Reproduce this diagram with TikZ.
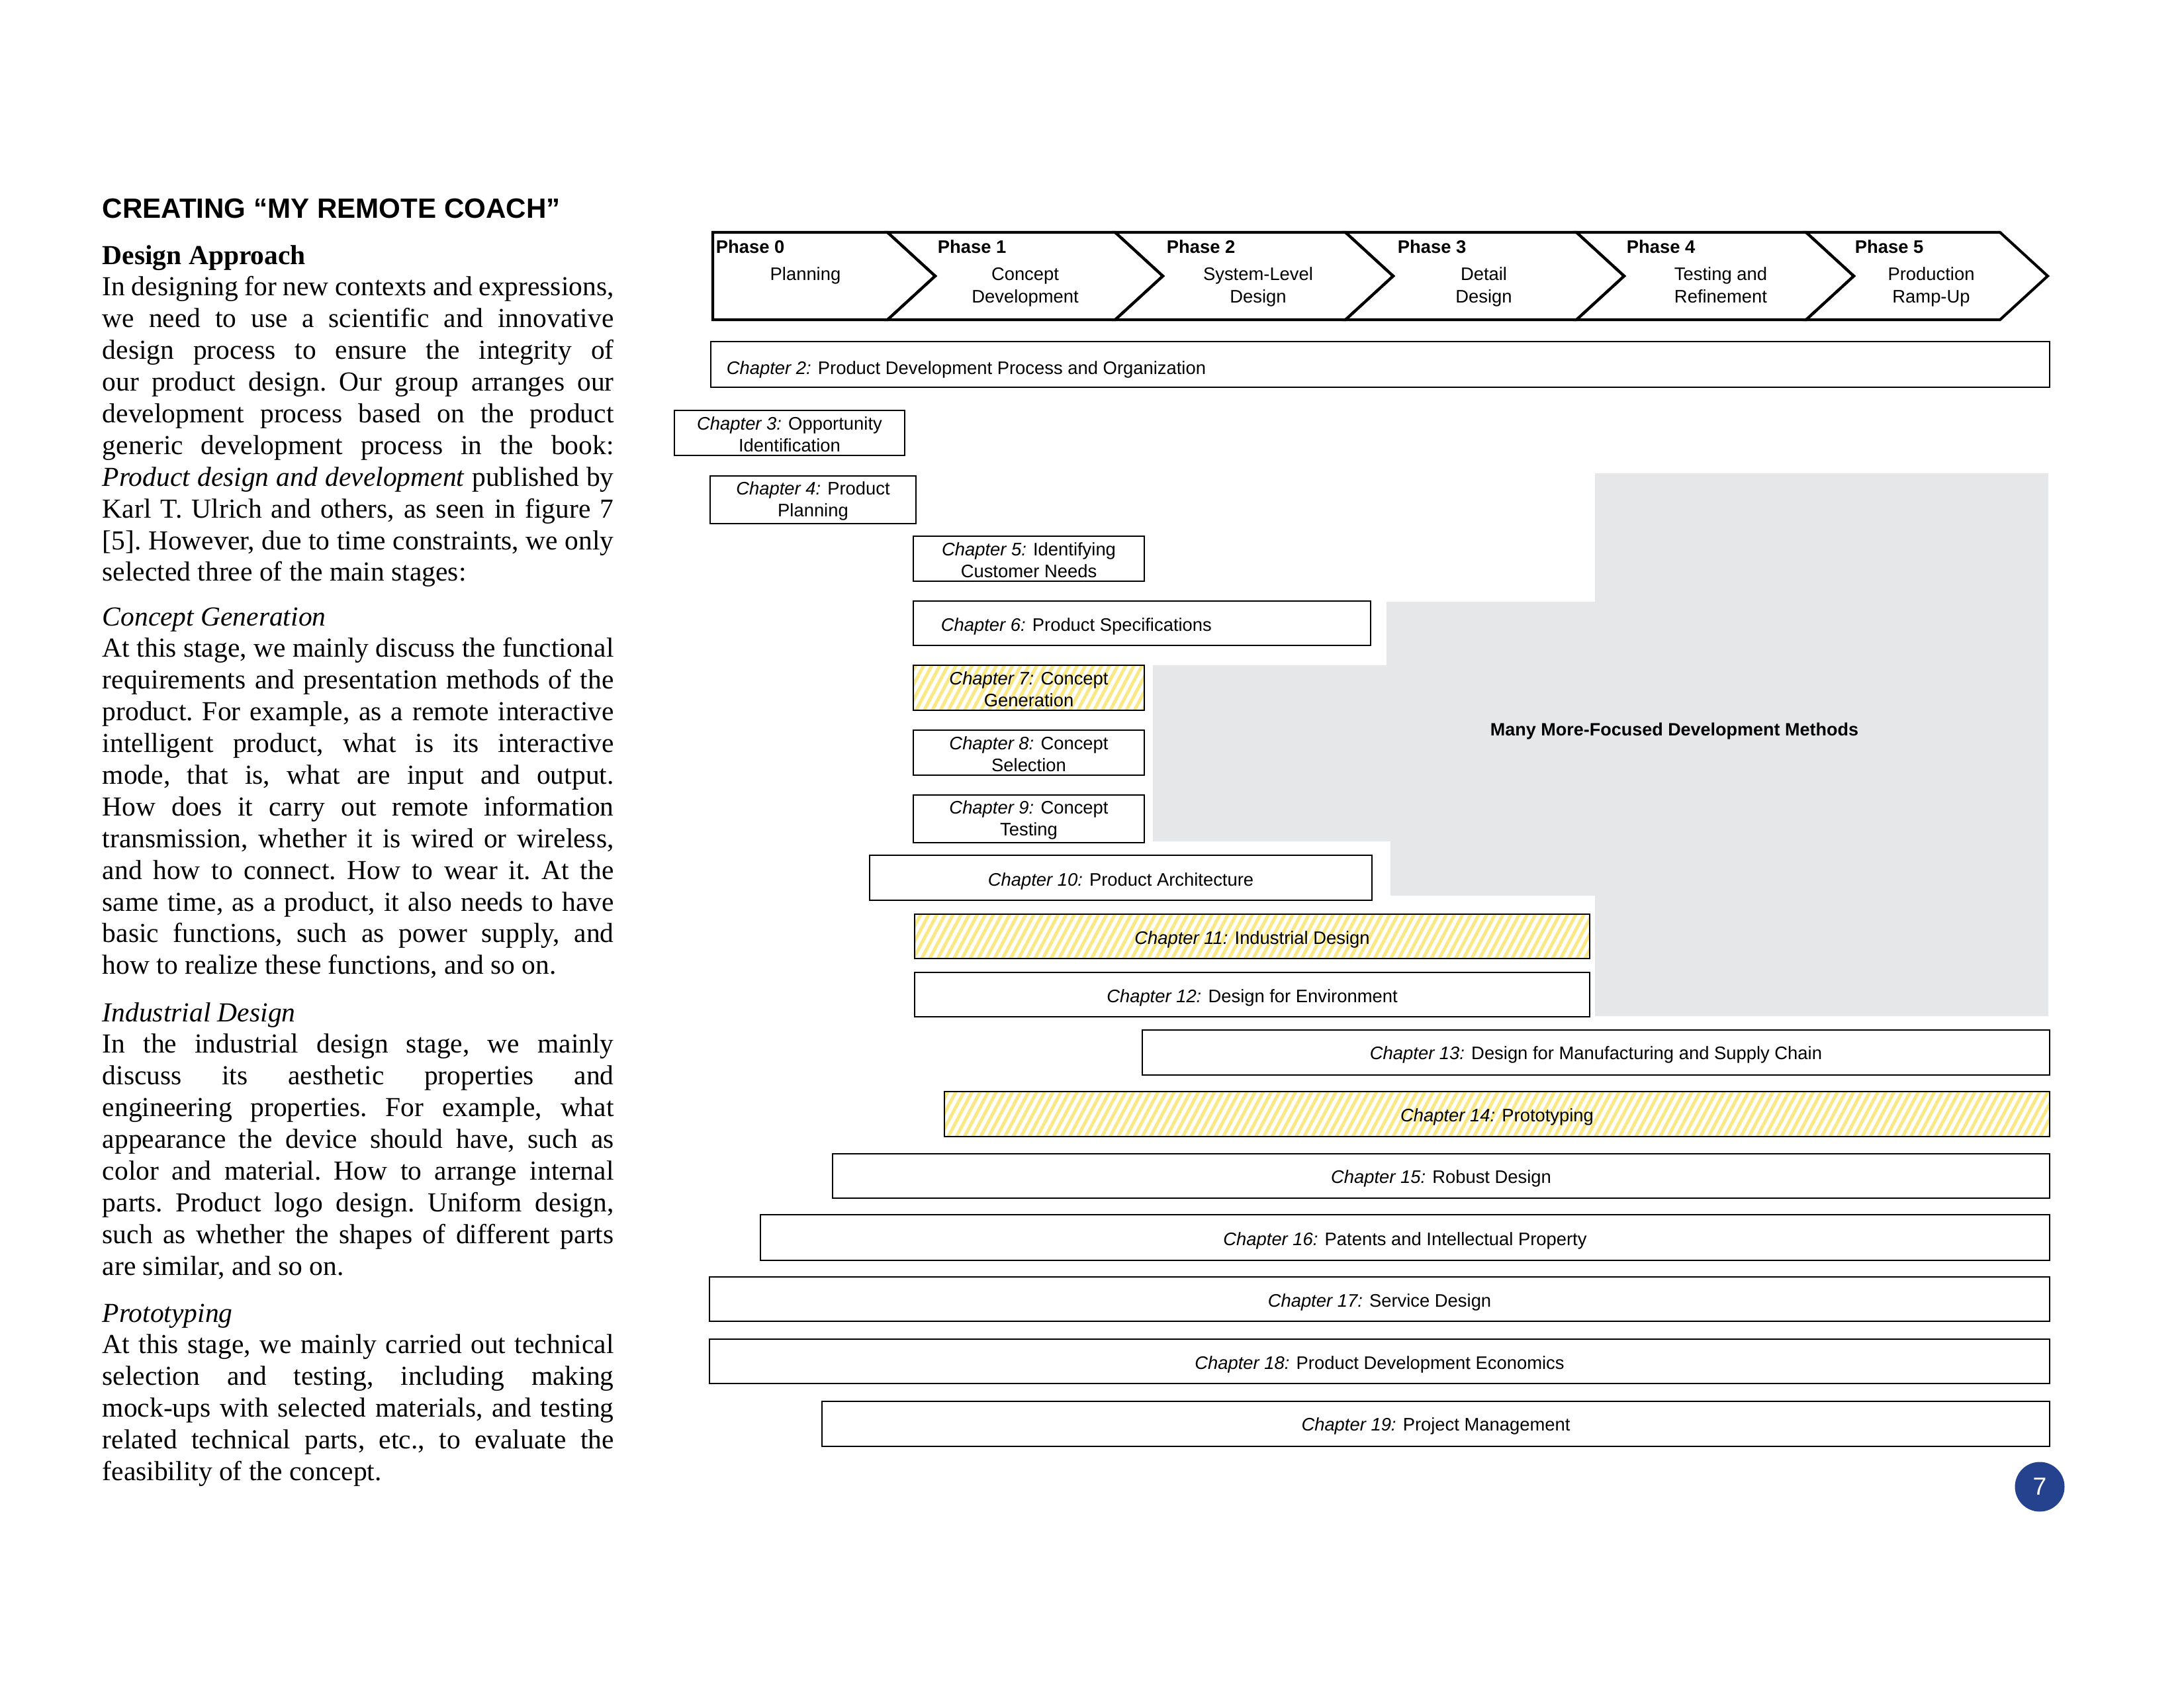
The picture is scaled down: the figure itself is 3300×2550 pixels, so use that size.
\documentclass[tikz,border=0pt]{standalone}
\usepackage{fontspec}
\setmainfont{Liberation Serif}
\setsansfont{Liberation Sans}
\usetikzlibrary{patterns.meta}

\definecolor{methodgray}{HTML}{E6E7E8}
\definecolor{hatchyellow}{HTML}{F9E883}
\definecolor{pageblue}{HTML}{25428F}

\newcommand{\bodyfont}{\fontsize{10}{11.54}\selectfont\spaceskip=2.5pt plus 8pt minus 1.2pt\xspaceskip=\spaceskip
  \tolerance=10000\hbadness=10000\hyphenpenalty=10000\frenchspacing}

\tikzset{
  phaseline/.style={black,line width=1pt,line join=miter},
  chapline/.style={black,line width=0.6pt},
  nofill/.style={},
  hatched/.style={pattern={Lines[angle=62,distance=2.6pt,line width=1.2pt]},pattern color=hatchyellow},
  chaptext/.style={font=\sffamily\fontsize{6.6}{8}\selectfont,align=center,inner sep=0pt},
  phasetitle/.style={font=\sffamily\bfseries\fontsize{6.6}{8}\selectfont,anchor=base west,inner sep=0pt},
  phasetext/.style={font=\sffamily\fontsize{6.6}{8}\selectfont,align=center,anchor=base,inner sep=0pt},
  bodytext/.style={font=\bodyfont,text width=186.2pt,align=justify,anchor=base west,inner sep=0pt}
}

\begin{document}
\begin{tikzpicture}[x=0.0084667cm,y=-0.0084667cm]
    \useasboundingbox (0,0) rectangle (3300,2550);

    % left column
    \node[font=\sffamily\bfseries\fontsize{10.15}{12}\selectfont,anchor=base west,inner sep=0pt] (title) at (154,329) {CREATING “MY REMOTE COACH”};
    \node[bodytext] (approach) at (154,399) {\textbf{Design Approach}\par
      In designing for new contexts and expressions,\linebreak
      we need to use a scientific and innovative\linebreak
      design process to ensure the integrity of\linebreak
      our product design. Our group arranges our\linebreak
      development process based on the product\linebreak
      generic development process in the book:\linebreak
      \textit{Product design and development} published by\linebreak
      Karl T. Ulrich and others, as seen in figure 7\linebreak{}
      [5]. However, due to time constraints, we only\linebreak
      selected three of the main stages:};
    \node[bodytext] (concept) at (154,945) {\textit{Concept Generation}\par
      At this stage, we mainly discuss the functional\linebreak
      requirements and presentation methods of the\linebreak
      product. For example, as a remote interactive\linebreak
      intelligent product, what is its interactive\linebreak
      mode, that is, what are input and output.\linebreak
      How does it carry out remote information\linebreak
      transmission, whether it is wired or wireless,\linebreak
      and how to connect. How to wear it. At the\linebreak
      same time, as a product, it also needs to have\linebreak
      basic functions, such as power supply, and\linebreak
      how to realize these functions, and so on.};
    \node[bodytext] (industrial) at (154,1543) {\textit{Industrial Design}\par
      In the industrial design stage, we mainly\linebreak
      discuss its aesthetic properties and\linebreak
      engineering properties. For example, what\linebreak
      appearance the device should have, such as\linebreak
      color and material. How to arrange internal\linebreak
      parts. Product logo design. Uniform design,\linebreak
      such as whether the shapes of different parts\linebreak
      are similar, and so on.};
    \node[bodytext] (proto) at (154,1997) {\textit{Prototyping}\par
      At this stage, we mainly carried out technical\linebreak
      selection and testing, including making\linebreak
      mock-ups with selected materials, and testing\linebreak
      related technical parts, etc., to evaluate the\linebreak
      feasibility of the concept.};

    % grey area
    \fill[methodgray] (2410,715) -- (3095,715) -- (3095,1535) -- (2410,1535) -- (2410,1353) -- (2101,1353) -- (2101,1271) -- (1742,1271) -- (1742,1005) -- (2095,1005) -- (2095,909) -- (2410,909) -- cycle;
    \node[font=\sffamily\bfseries\fontsize{6.5}{7.5}\selectfont] (methods) at (2530,1105) {Many More-Focused Development Methods};

    % phases
    \draw[phaseline] (1077,351) -- (1341,351) -- (1413,417) -- (1341,483) -- (1077,483) -- cycle;
    \foreach \xa/\xb in {1341/1685, 1685/2033, 2033/2382, 2382/2729, 2729/3022}
      \draw[phaseline] (\xa,351) -- (\xb,351) -- (\xb+72,417) -- (\xb,483) -- (\xa,483) -- (\xa+72,417) -- cycle;
    \node[phasetitle] (p0) at (1081,382) {Phase 0};
    \node[phasetext] (s0) at (1217,423) {Planning};
    \node[phasetitle] (p1) at (1416,382) {Phase 1};
    \node[phasetext] (s1) at (1549,457) {Concept\\Development};
    \node[phasetitle] (p2) at (1762,382) {Phase 2};
    \node[phasetext] (s2) at (1901,457) {System-Level\\Design};
    \node[phasetitle] (p3) at (2111,382) {Phase 3};
    \node[phasetext] (s3) at (2242,457) {Detail\\Design};
    \node[phasetitle] (p4) at (2457,382) {Phase 4};
    \node[phasetext] (s4) at (2600,457) {Testing and\\Refinement};
    \node[phasetitle] (p5) at (2802,382) {Phase 5};
    \node[phasetext] (s5) at (2918,457) {Production\\Ramp-Up};

    % chapters
    \draw[chapline] (1074,516) rectangle (3097,585);
    \node[chaptext,anchor=west] (ch2) at (1097,558) {{\itshape Chapter 2:} Product Development Process and Organization};
    \draw[chapline] (1380,908) rectangle (2071,975);
    \node[chaptext,anchor=west] (ch6) at (1421,946) {{\itshape Chapter 6:} Product Specifications};
    \foreach \n/\xa/\ya/\xb/\yb/\dy/\s/\t in {
        3/1019/620/1367/688/2/nofill/{Opportunity\\Identification},
        4/1073/719/1384/791/2/nofill/{Product\\Planning},
        5/1380/810/1729/878/2/nofill/{Identifying\\Customer Needs},
        7/1380/1005/1729/1073/2/hatched/{Concept\\Generation},
        8/1380/1103/1729/1171/2/nofill/{Concept\\Selection},
        9/1380/1201/1729/1273/2/nofill/{Concept\\Testing},
        10/1314/1292/2073/1360/5/nofill/{Product Architecture},
        11/1382/1381/2402/1448/5/hatched/{Industrial Design},
        12/1382/1469/2402/1536/5/nofill/{Design for Environment},
        13/1726/1556/3097/1624/3/nofill/{Design for Manufacturing and Supply Chain},
        14/1427/1649/3097/1717/4/hatched/{Prototyping},
        15/1258/1743/3097/1810/4/nofill/{Robust Design},
        16/1149/1835/3097/1904/5/nofill/{Patents and Intellectual Property},
        17/1072/1929/3097/1996/5/nofill/{Service Design},
        18/1072/2023/3097/2090/5/nofill/{Product Development Economics},
        19/1242/2117/3097/2185/3/nofill/{Project Management}}{
      \draw[chapline,\s] (\xa,\ya) rectangle (\xb,\yb);
      \node[chaptext] (ch\n) at ({(\xa+\xb)/2},{(\ya+\yb)/2+\dy}) {{\itshape Chapter \n:} \t};
    }

    % page number
    \node[circle,fill=pageblue,minimum size=0.635cm,inner sep=0pt,text=white,font=\sffamily\fontsize{9}{10}\selectfont] (page) at (3082,2246) {7};
\end{tikzpicture}
\end{document}
